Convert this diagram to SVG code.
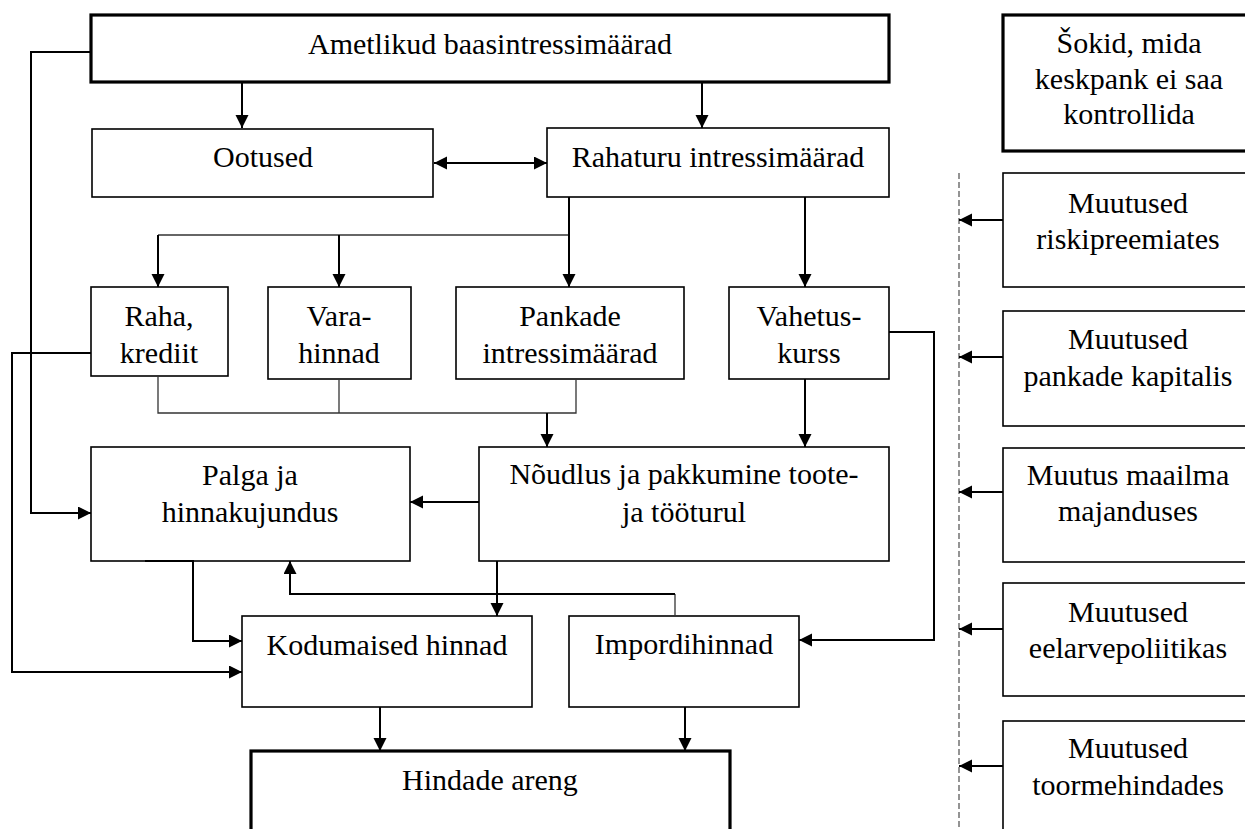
<svg xmlns="http://www.w3.org/2000/svg" width="1245" height="829" viewBox="0 0 1245 829">
<style>
  .box { fill: #fff; stroke: #000; stroke-width: 1.6; }
  .thick { fill: #fff; stroke: #000; stroke-width: 3.2; }
  .t { font-family: "Liberation Serif", "Times New Roman", serif; font-size: 30px; fill: #000; text-anchor: middle; }
  .c { fill: none; stroke: #000; stroke-width: 2; }
  .thin { fill: none; stroke: #333; stroke-width: 1.3; }
  .dash { fill: none; stroke: #7a7a7a; stroke-width: 1.6; stroke-dasharray: 6 3; }
</style>
<defs>
  <marker id="ah" markerUnits="userSpaceOnUse" markerWidth="14" markerHeight="14" refX="13" refY="6.5" orient="auto-start-reverse">
    <path d="M0,0 L13,6.5 L0,13 z" fill="#000"/>
  </marker>
</defs>

<g id="n-ametlikud"><rect class="thick" x="91" y="15" width="798" height="67"/><text class="t" x="490" y="54">Ametlikud baasintressimäärad</text></g>
<g id="n-ootused"><rect class="box" x="92" y="129" width="341" height="68"/><text class="t" x="263" y="167">Ootused</text></g>
<g id="n-rahaturu"><rect class="box" x="547" y="128" width="342" height="69"/><text class="t" x="718" y="167">Rahaturu intressimäärad</text></g>
<g id="n-sokid"><rect class="thick" x="1003" y="15" width="260" height="136"/><text class="t" x="1129" y="53">Šokid, mida</text><text class="t" x="1129" y="89">keskpank ei saa</text><text class="t" x="1129" y="124">kontrollida</text></g>

<g id="n-raha"><rect class="box" x="91" y="287" width="137" height="89"/><text class="t" x="159" y="326">Raha,</text><text class="t" x="159" y="363">krediit</text></g>
<g id="n-vara"><rect class="box" x="268" y="287" width="143" height="92"/><text class="t" x="339" y="326">Vara-</text><text class="t" x="339" y="363">hinnad</text></g>
<g id="n-pankade"><rect class="box" x="456" y="287" width="228" height="92"/><text class="t" x="570" y="326">Pankade</text><text class="t" x="570" y="363">intressimäärad</text></g>
<g id="n-vahetus"><rect class="box" x="729" y="287" width="160" height="92"/><text class="t" x="809" y="326">Vahetus-</text><text class="t" x="809" y="363">kurss</text></g>

<g id="n-palga"><rect class="box" x="91" y="447" width="319" height="114"/><text class="t" x="250" y="485">Palga ja</text><text class="t" x="250" y="522">hinnakujundus</text></g>
<g id="n-noudlus"><rect class="box" x="479" y="447" width="410" height="114"/><text class="t" x="684" y="484">Nõudlus ja pakkumine toote-</text><text class="t" x="684" y="522">ja tööturul</text></g>

<g id="n-kodumaised"><rect class="box" x="242" y="616" width="290" height="91"/><text class="t" x="387" y="655">Kodumaised hinnad</text></g>
<g id="n-import"><rect class="box" x="569" y="616" width="230" height="91"/><text class="t" x="684" y="654">Impordihinnad</text></g>
<g id="n-hindade"><rect class="thick" x="251" y="751" width="479" height="100"/><text class="t" x="490" y="790">Hindade areng</text></g>

<g id="n-risk"><rect class="box" x="1003" y="173" width="260" height="114"/><text class="t" x="1128" y="213">Muutused</text><text class="t" x="1128" y="249">riskipreemiates</text></g>
<g id="n-kapital"><rect class="box" x="1003" y="311" width="260" height="115"/><text class="t" x="1128" y="349">Muutused</text><text class="t" x="1128" y="386">pankade kapitalis</text></g>
<g id="n-maailm"><rect class="box" x="1003" y="448" width="260" height="114"/><text class="t" x="1128" y="485">Muutus maailma</text><text class="t" x="1128" y="521">majanduses</text></g>
<g id="n-eelarve"><rect class="box" x="1003" y="583" width="260" height="113"/><text class="t" x="1128" y="622">Muutused</text><text class="t" x="1128" y="658">eelarvepoliitikas</text></g>
<g id="n-toorme"><rect class="box" x="1003" y="721" width="260" height="130"/><text class="t" x="1128" y="758">Muutused</text><text class="t" x="1128" y="795">toormehindades</text></g>

<g id="connectors">
  <path class="dash" d="M959,173 V829"/>
  <path class="c" d="M91,52 H31 V513 H91" marker-end="url(#ah)"/>
  <path class="c" d="M242,82 V128" marker-end="url(#ah)"/>
  <path class="c" d="M702,82 V128" marker-end="url(#ah)"/>
  <path class="c" d="M434,163 H547" marker-start="url(#ah)" marker-end="url(#ah)"/>
  <path class="thin" d="M158,235 H569"/>
  <path class="c" d="M569,197 V287" marker-end="url(#ah)"/>
  <path class="c" d="M158,235 V287" marker-end="url(#ah)"/>
  <path class="c" d="M339,235 V287" marker-end="url(#ah)"/>
  <path class="c" d="M805,197 V287" marker-end="url(#ah)"/>
  <path class="thin" d="M158,376 V413 H576 V379"/>
  <path class="thin" d="M339,379 V413"/>
  <path class="c" d="M547,413 V447" marker-end="url(#ah)"/>
  <path class="c" d="M805,379 V447" marker-end="url(#ah)"/>
  <path class="c" d="M889,332 H934 V640 H799" marker-end="url(#ah)"/>
  <path class="c" d="M91,353 H12 V672 H242" marker-end="url(#ah)"/>
  <path class="c" d="M479,502 H410" marker-end="url(#ah)"/>
  <path class="c" d="M145,561 H193 V641 H242" marker-end="url(#ah)"/>
  <path class="c" d="M497,561 V616" marker-end="url(#ah)"/>
  <path class="thin" d="M675,616 V594"/>
  <path class="c" d="M675,594 H290 V561" marker-end="url(#ah)"/>
  <path class="c" d="M380,707 V751" marker-end="url(#ah)"/>
  <path class="c" d="M685,707 V751" marker-end="url(#ah)"/>
  <path class="c" d="M1003,220 H959" marker-end="url(#ah)"/>
  <path class="c" d="M1003,357 H959" marker-end="url(#ah)"/>
  <path class="c" d="M1003,492 H959" marker-end="url(#ah)"/>
  <path class="c" d="M1003,629 H959" marker-end="url(#ah)"/>
  <path class="c" d="M1003,766 H959" marker-end="url(#ah)"/>
</g>
</svg>
